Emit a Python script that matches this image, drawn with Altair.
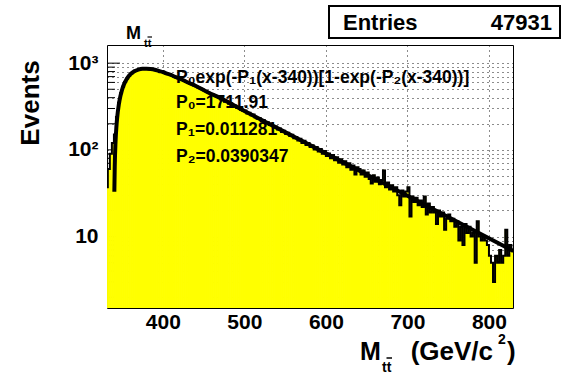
import altair as alt
import pandas as pd

# ---------------- data ----------------
bin_start = 330.0
bin_width = 2.5
counts = [
    37, 60, 90, 120,
    150, 240, 350, 450, 535, 605, 665, 715, 760, 790,
    815, 832, 850, 858, 860, 866, 858, 853, 851, 838,
    832, 817, 809, 790, 781, 762, 752, 733, 720, 700,
    690, 668, 658, 638, 627, 606, 596, 577, 567, 548,
    538, 520, 510, 497, 480, 470, 457, 440, 434, 419, 411,
    402, 380, 384, 359, 361, 340, 344, 322, 325, 303,
    309, 289, 281, 284, 262, 268, 251, 255, 236, 229,
    233, 215, 221, 204, 208, 193, 197, 181, 186, 172,
    176, 161, 166, 152, 158, 145, 149, 136, 141, 128,
    134, 120, 127, 114, 120, 108, 113, 101, 108, 96,
    102, 90, 97, 85, 91, 80, 87, 76, 82, 71,
    78, 68, 74, 63, 70, 59, 66, 52, 63, 60,
    52, 58, 49, 55, 46, 41, 51, 43, 48, 40,
    45, 58, 37, 42, 35, 39, 33, 37, 30, 23,
    34, 29, 33, 37, 17, 29, 25, 28, 23, 26,
    22, 29, 18, 24, 19, 22, 19, 14, 20, 17,
    19, 12, 16, 18, 15, 16, 13, 15, 9, 13,
    8, 14, 11, 13, 10, 11, 5, 15, 10, 9,
    10, 9, 8, 6, 5, 3, 6, 5, 7, 5,
    6, 12, 6, 8, 7,
]
fit_x = [340.5, 341, 342, 343, 344, 346, 348, 350, 352, 355, 360, 365, 370,
         375, 380, 385, 390, 395, 400, 405, 410, 415, 420, 430, 440, 455,
         470, 500, 540, 600, 670, 740, 830]
fit_y = [32.9, 64.8, 125.7, 182.9, 236.6, 334.0, 419.5, 494.2, 559.1, 640.5,
         740.8, 805.5, 843.5, 861.3, 864.0, 855.5, 839.0, 812.9, 790.5, 757.3,
         731.4, 695.3, 668.8, 601.7, 548.3, 462.6, 397.8, 281.0, 179.3, 91.1,
         41.4, 18.8, 6.81]
x_ticks = [400, 500, 600, 700, 800]
y_minor = [2, 3, 4, 5, 6, 7, 8, 9, 20, 30, 40, 50, 60, 70, 80, 90,
           200, 300, 400, 500, 600, 700, 800, 900]
y_major = [10, 100, 1000]

stats_label = "Entries"
stats_value = "47931"
fit_lines = ["P\u2080exp(-P\u2081(x-340))[1-exp(-P\u2082(x-340))]",
             "P\u2080=1711.91", "P\u2081=0.011281", "P\u2082=0.0390347"]

# ---------------- build ----------------
n = len(counts)
x0 = [bin_start + bin_width * i for i in range(n)]
x1 = [bin_start + bin_width * (i + 1) for i in range(n)]
bars_df = pd.DataFrame({"x0": x0, "x1": x1, "y": counts})
step_df = pd.DataFrame({"x": x0 + [x1[-1]], "y": counts + [counts[-1]]})
fit_df = pd.DataFrame({"x": fit_x, "y": fit_y})
W, H = 406, 263
FONT = "Liberation Sans"
one = alt.Data(values=[{}])

xs = alt.Scale(domain=[331.5, 829.5], nice=False, zero=False)
ys = alt.Scale(type="log", domain=[1.5, 1620], nice=False)

xaxis = alt.Axis(values=x_ticks, grid=True, gridColor="black", gridDash=[1, 4],
                 gridWidth=1, gridOpacity=0.9, ticks=False, domain=False,
                 labelFont=FONT, labelFontSize=21, labelFontWeight="bold",
                 labelColor="black", labelPadding=3, title=None, format="d")
yaxis = alt.Axis(values=y_minor + y_major, grid=True, gridColor="black",
                 gridDash=[1, 4], gridWidth=1, gridOpacity=0.9, ticks=False,
                 domain=False, labelOverlap=False,
                 labelExpr="datum.value == 10 ? '10' : datum.value == 100 ? '10\u00b2' : datum.value == 1000 ? '10\u00b3' : ''",
                 labelFont=FONT, labelFontSize=21, labelFontWeight="bold",
                 labelColor="black", labelPadding=9, title=None)

minor_df = pd.DataFrame({"y": y_minor})
major_df = pd.DataFrame({"y": y_major})
ticks_minor = alt.Chart(minor_df).mark_rule(color="black", strokeWidth=1).encode(
    y=alt.Y("y:Q", scale=ys, axis=yaxis), x=alt.value(0), x2=alt.value(8))
ticks_major = alt.Chart(major_df).mark_rule(color="black", strokeWidth=1).encode(
    y=alt.Y("y:Q", scale=ys), x=alt.value(0), x2=alt.value(13))

hist_bars = alt.Chart(bars_df).mark_bar(color="#ffff00", stroke="#ffff00",
                                        strokeWidth=1, clip=True).encode(
    x=alt.X("x0:Q", scale=xs, axis=xaxis),
    x2="x1:Q",
    y=alt.Y("y:Q", scale=ys),
    y2=alt.value(H))
hist_line = alt.Chart(step_df).mark_line(interpolate="step-after", color="black",
                                         strokeWidth=2, clip=True).encode(
    x=alt.X("x:Q", scale=xs), y=alt.Y("y:Q", scale=ys))
fit_line = alt.Chart(fit_df).mark_line(color="black", strokeWidth=4,
                                       interpolate="monotone", clip=True).encode(
    x=alt.X("x:Q", scale=xs), y=alt.Y("y:Q", scale=ys))


def txt(text, x, y, size, align="left", baseline="alphabetic", angle=0):
    return alt.Chart(one).mark_text(text=text, font=FONT, fontSize=size,
                                    fontWeight="bold", align=align,
                                    baseline=baseline, angle=angle,
                                    color="black").encode(
        x=alt.value(x), y=alt.value(y))


def bar(xa, xb, y, w=1.5):
    return alt.Chart(one).mark_rule(color="black", strokeWidth=w).encode(
        x=alt.value(xa), x2=alt.value(xb), y=alt.value(y))


box = alt.Chart(one).mark_rect(fill="white", stroke="black", strokeWidth=2).encode(
    x=alt.value(222), x2=alt.value(453), y=alt.value(-39), y2=alt.value(-7))

layers = [
    ticks_minor, ticks_major, hist_bars, hist_line, fit_line,
    txt(fit_lines[0], 69, 38, 17.5),
    txt(fit_lines[1], 69, 63, 17.5),
    txt(fit_lines[2], 69, 90, 17.5),
    txt(fit_lines[3], 69, 117, 17.5),
    box,
    txt(stats_label, 236, -15, 22),
    txt(stats_value, 445, -15, 22, align="right"),
    # top-left title M_tt
    txt("M", 19, -6, 18),
    txt("tt", 37, 2, 11),
    bar(40.5, 45, -8, 1.2),
    # y title
    txt("Events", -76, 58, 26, align="center", baseline="middle", angle=270),
    # x title M_tt (GeV/c^2)
    txt("M", 253, 315, 25),
    txt("tt", 275, 327, 14),
    bar(279.5, 285, 313, 1.5),
    txt("(GeV/c", 386, 315, 26, align="right"),
    txt("2", 391, 299, 14),
    txt(")", 400, 315, 26),
]

chart = alt.layer(*layers).properties(
    width=W, height=H,
    autosize=alt.AutoSizeParams(type="none"),
    padding={"left": 107, "top": 45, "right": 53, "bottom": 66},
    background="white",
).configure_view(stroke="black", strokeWidth=1)

chart.save("out.html", embed_options={"renderer": "svg", "actions": False})
